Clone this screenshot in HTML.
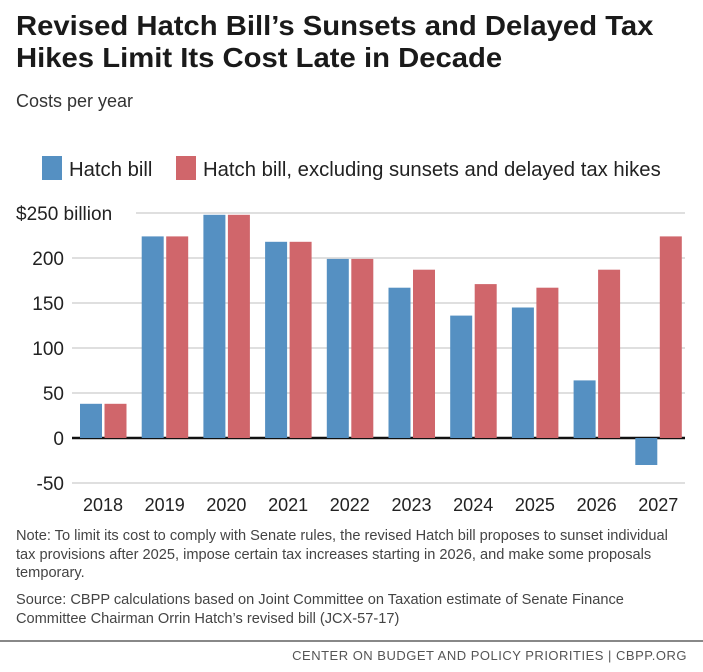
<!DOCTYPE html>
<html><head><meta charset="utf-8"><style>
body{margin:0;background:#fff;width:703px;height:672px;overflow:hidden;font-family:"Liberation Sans",sans-serif;color:#222}
.t{position:absolute;left:16px;top:10px;font-size:28px;font-weight:bold;line-height:32px;color:#1a1a1a;transform:scaleX(1.045);transform-origin:0 0;white-space:nowrap}
.s{position:absolute;left:16px;top:91px;font-size:18px;color:#333}
.note{position:absolute;left:16px;width:655px;font-size:14.6px;line-height:18.5px;color:#444}
</style></head><body>
<div class="t">Revised Hatch Bill’s Sunsets and Delayed Tax<br>Hikes Limit Its Cost Late in Decade</div>
<div class="s">Costs per year</div>
<svg id="c" width="703" height="520" style="position:absolute;left:0;top:140px"></svg>
<div class="note" style="top:527px">Note: To limit its cost to comply with Senate rules, the revised Hatch bill proposes to sunset individual tax provisions after 2025, impose certain tax increases starting in 2026, and make some proposals temporary.</div>
<div class="note" style="top:591px">Source: CBPP calculations based on Joint Committee on Taxation estimate of Senate Finance Committee Chairman Orrin Hatch’s revised bill (JCX-57-17)</div>
<div style="position:absolute;left:0;top:640px;width:703px;border-top:2px solid #888"></div>
<div style="position:absolute;right:16px;top:648px;font-size:13px;color:#555;letter-spacing:0.5px">CENTER ON BUDGET AND POLICY PRIORITIES | CBPP.ORG</div>
<script>
const categories=["2018","2019","2020","2021","2022","2023","2024","2025","2026","2027"];
const hatch=[38,224,248,218,199,167,136,145,64,-30];
const excl=[38,224,248,218,199,187,171,167,187,224];
const ticks=[-50,0,50,100,150,200,250];
const seriesNames=["Hatch bill","Hatch bill, excluding sunsets and delayed tax hikes"];
const NS="http://www.w3.org/2000/svg",svg=document.getElementById('c');
const OY=140;
function y(v){return 438-OY-v*0.9;}
function x(i){return 80+i*61.7;}
function el(t,a,txt){const e=document.createElementNS(NS,t);for(const k in a)e.setAttribute(k,a[k]);if(txt!==undefined)e.textContent=txt;svg.appendChild(e);return e;}
ticks.forEach(t=>{
 const g=el('line',{x1:t===250?136:72,x2:685,y1:y(t),y2:y(t),stroke:t===0?'#111':'#ccc','stroke-width':t===0?2.5:1.3});
 
 
 const l=el('text',{x:t===250?16:64,y:y(t)+7,'font-size':19,'text-anchor':t===250?'start':'end',fill:'#222'},t===250?'$250 billion':String(t));
 
 
});
categories.forEach((c,i)=>{
 [[hatch,'#5590c2',0],[excl,'#d0666b',24.5]].forEach(([arr,col,off],s)=>{
  const v=arr[i];
  const r=el('rect',{x:x(i)+off,y:Math.min(y(v),y(0)),width:22,height:Math.abs(y(v)-y(0)),fill:col});
  
  
 });
 const l=el('text',{x:x(i)+23,y:y(-50)+28,'font-size':18,'text-anchor':'middle',fill:'#222'},c);
 
 
});
[[42,'#5590c2',0],[176,'#d0666b',1]].forEach(([lx,col,k])=>{
 const r=el('rect',{x:lx,y:16,width:20,height:24,fill:col});
 
 
 const t=el('text',{x:lx+27,y:36,'font-size':20.3,fill:'#222'},seriesNames[k]);
 
 
});
</script>
</body></html>
